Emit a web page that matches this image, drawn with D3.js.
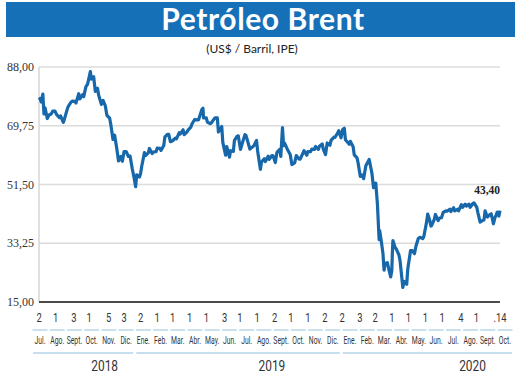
<!DOCTYPE html>
<html>
<head>
<meta charset="utf-8">
<script src="https://cdn.jsdelivr.net/npm/d3@7"></script>
<style>
  body { margin: 0; background: #fff; }
  svg { display: block; }
  .ylab { font-family: "Liberation Serif", "DejaVu Serif", serif; font-size: 12px; fill: #333; }
  .narrow { font-family: Roboto, "Liberation Sans", sans-serif; fill: #333; }
</style>
</head>
<body>
<div id="canvas"></div>
<script>
// Brent prices, US$ per barrel
var dates = [
 '2018-07-02','2018-07-04','2018-07-06','2018-07-09','2018-07-11','2018-07-13','2018-07-17','2018-07-20','2018-07-24','2018-07-27','2018-07-31',
 '2018-08-03','2018-08-08','2018-08-10','2018-08-15','2018-08-17','2018-08-22','2018-08-24','2018-08-29','2018-08-31',
 '2018-09-05','2018-09-07','2018-09-12','2018-09-14','2018-09-19','2018-09-21','2018-09-25','2018-09-28',
 '2018-10-03','2018-10-05','2018-10-09','2018-10-12','2018-10-16','2018-10-18','2018-10-23','2018-10-26','2018-10-30',
 '2018-11-02','2018-11-07','2018-11-09','2018-11-13','2018-11-16','2018-11-20','2018-11-23','2018-11-27','2018-11-30',
 '2018-12-03','2018-12-07','2018-12-11','2018-12-14','2018-12-18','2018-12-21','2018-12-24','2018-12-26','2018-12-31',
 '2019-01-02','2019-01-04','2019-01-09','2019-01-11','2019-01-16','2019-01-18','2019-01-23','2019-01-25','2019-01-30',
 '2019-02-01','2019-02-06','2019-02-08','2019-02-13','2019-02-15','2019-02-20','2019-02-22','2019-02-25',
 '2019-03-01','2019-03-06','2019-03-08','2019-03-13','2019-03-15','2019-03-20','2019-03-22','2019-03-27','2019-03-29',
 '2019-04-03','2019-04-05','2019-04-10','2019-04-12','2019-04-17','2019-04-23','2019-04-25','2019-04-26',
 '2019-05-01','2019-05-03','2019-05-08','2019-05-10','2019-05-15','2019-05-17','2019-05-21','2019-05-23','2019-05-29','2019-05-31',
 '2019-06-05','2019-06-07','2019-06-12','2019-06-14','2019-06-19','2019-06-21','2019-06-26','2019-06-28',
 '2019-07-02','2019-07-05','2019-07-10','2019-07-12','2019-07-17','2019-07-19','2019-07-24','2019-07-26','2019-07-31',
 '2019-08-02','2019-08-07','2019-08-09','2019-08-14','2019-08-16','2019-08-21','2019-08-23','2019-08-28','2019-08-30',
 '2019-09-03','2019-09-06','2019-09-11','2019-09-13','2019-09-16','2019-09-18','2019-09-20','2019-09-25','2019-09-30',
 '2019-10-03','2019-10-08','2019-10-11','2019-10-16','2019-10-18','2019-10-23','2019-10-25','2019-10-30',
 '2019-11-01','2019-11-06','2019-11-08','2019-11-13','2019-11-15','2019-11-20','2019-11-22','2019-11-27','2019-11-29',
 '2019-12-03','2019-12-06','2019-12-11','2019-12-13','2019-12-18','2019-12-20','2019-12-24','2019-12-27','2019-12-31',
 '2020-01-03','2020-01-06','2020-01-08','2020-01-10','2020-01-15','2020-01-17','2020-01-22','2020-01-24','2020-01-29','2020-01-31',
 '2020-02-04','2020-02-07','2020-02-10','2020-02-14','2020-02-20','2020-02-21','2020-02-25','2020-02-28',
 '2020-03-03','2020-03-06','2020-03-09','2020-03-10','2020-03-13','2020-03-16','2020-03-18','2020-03-20','2020-03-24','2020-03-27','2020-03-30',
 '2020-04-01','2020-04-02','2020-04-03','2020-04-07','2020-04-09','2020-04-14','2020-04-16','2020-04-21','2020-04-22','2020-04-24','2020-04-28','2020-04-30',
 '2020-05-05','2020-05-08','2020-05-12','2020-05-15','2020-05-19','2020-05-22','2020-05-27','2020-05-29',
 '2020-06-03','2020-06-05','2020-06-08','2020-06-11','2020-06-12','2020-06-17','2020-06-19','2020-06-24','2020-06-26','2020-06-30',
 '2020-07-03','2020-07-08','2020-07-10','2020-07-15','2020-07-17','2020-07-22','2020-07-24','2020-07-29','2020-07-31',
 '2020-08-05','2020-08-07','2020-08-12','2020-08-14','2020-08-19','2020-08-21','2020-08-26','2020-08-28',
 '2020-09-02','2020-09-04','2020-09-08','2020-09-10','2020-09-15','2020-09-17','2020-09-21','2020-09-24','2020-09-28','2020-09-30',
 '2020-10-02','2020-10-05','2020-10-07','2020-10-09','2020-10-12','2020-10-14'
];
var prices = [
 77.8,78.2,77.1,79.6,73.4,75.3,72.0,73.1,73.4,74.3,74.3,
 73.2,72.3,72.8,70.8,71.8,74.8,75.8,77.1,77.4,
 77.3,76.8,79.7,78.1,79.4,78.8,81.9,82.7,
 86.6,84.2,85.0,80.4,81.4,79.3,76.4,77.6,76.0,
 73.0,72.1,70.2,65.5,66.8,62.5,58.8,60.2,58.7,
 61.7,61.7,60.2,60.3,56.3,53.8,50.8,54.5,53.8,
 54.9,57.1,61.4,60.5,61.3,62.7,61.1,61.6,61.7,
 62.8,62.7,62.1,63.6,66.3,67.1,67.1,64.8,
 65.1,65.9,65.7,67.6,67.2,68.5,67.0,67.8,68.4,
 69.3,70.3,71.7,71.6,71.6,74.8,75.2,72.2,
 72.2,70.9,70.4,70.6,71.8,72.2,72.2,67.8,69.5,64.5,
 60.6,63.3,60.0,62.0,61.8,65.2,66.5,66.6,
 62.4,64.2,67.0,66.7,63.7,62.5,63.2,63.5,65.2,
 61.9,56.2,58.5,59.5,58.6,60.3,59.3,60.5,60.4,
 58.3,61.5,62.4,60.2,69.2,63.6,64.3,62.4,60.8,
 57.7,58.2,60.5,59.4,59.4,61.2,62.0,60.6,
 61.7,61.7,62.5,62.4,63.3,62.4,63.4,64.1,62.4,
 60.8,64.4,63.7,65.2,66.2,66.1,67.2,68.2,66.0,
 68.6,69.0,65.4,65.0,64.0,64.9,63.2,60.7,59.8,58.2,
 54.0,54.5,53.3,57.3,59.3,58.5,55.0,50.5,
 51.9,45.3,34.4,37.2,33.9,30.1,24.9,27.0,27.2,24.9,22.8,
 24.7,29.9,34.1,31.9,31.5,29.6,27.8,19.5,20.4,21.4,20.5,25.3,
 31.0,31.0,30.0,32.5,34.7,35.1,34.7,35.3,
 39.8,42.3,40.8,38.6,38.7,40.7,42.2,40.3,41.0,41.2,
 42.8,43.3,43.2,43.8,43.1,44.3,43.3,43.8,43.3,
 45.2,44.4,45.4,44.8,45.4,44.4,45.6,45.8,
 44.4,42.7,39.8,40.1,40.5,43.3,41.4,41.9,42.4,41.0,
 39.3,41.3,42.0,42.9,41.7,43.4
];

var yTicks = [15, 33.25, 51.5, 69.75, 88];

var months = ['Jul.','Ago.','Sept.','Oct.','Nov.','Dic.',
  'Ene.','Feb.','Mar.','Abr.','May.','Jun.','Jul.','Ago.','Sept.','Oct.','Nov.','Dic.',
  'Ene.','Feb.','Mar.','Abr.','May.','Jun.','Jul.','Ago.','Sept.','Oct.'];
var monthYear = [2018,2018,2018,2018,2018,2018,
  2019,2019,2019,2019,2019,2019,2019,2019,2019,2019,2019,2019,
  2020,2020,2020,2020,2020,2020,2020,2020,2020,2020];

// first quoted day of each month, plus the last date
var firstDays = ['2018-07-02','2018-08-01','2018-09-03','2018-10-01','2018-11-05','2018-12-03',
  '2019-01-02','2019-02-01','2019-03-01','2019-04-01','2019-05-01','2019-06-03','2019-07-01','2019-08-01',
  '2019-09-02','2019-10-01','2019-11-01','2019-12-02','2020-01-02','2020-02-03','2020-03-02','2020-04-01',
  '2020-05-01','2020-06-01','2020-07-01','2020-08-04','2020-09-01','2020-10-14'];
var dayLabels = ['2','1','3','1','5','3','2','1','1','1','1','3','1','1',
  '2','1','1','2','2','3','2','1','1','1','1','4','1','.14'];

var years = ['2018','2019','2020'];
var lastLabel = '43,40';

var W = 520, H = 374;
var blue = '#1768ab';

var svg = d3.select('#canvas').append('svg')
    .attr('width', W).attr('height', H);

// title band
svg.append('rect').attr('x', 6).attr('y', 2).attr('width', 509).attr('height', 35)
    .style('fill', '#1670b8');
svg.append('text').attr('x', 263).attr('y', 30)
    .attr('text-anchor', 'middle')
    .style('font-family', 'Lato, "Open Sans", sans-serif')
    .style('font-weight', 'bold').style('font-size', '30px')
    .style('letter-spacing', '0.6px')
    .style('fill', '#fff')
    .text('Petróleo Brent');
svg.append('text').attr('x', 252).attr('y', 53)
    .attr('text-anchor', 'middle')
    .style('font-family', 'Lato, "Open Sans", sans-serif')
    .style('font-size', '12px').style('fill', '#222')
    .text('(US$ / Barril, IPE)');

var parse = d3.timeParse('%Y-%m-%d');
var data = dates.map(function(d, i){ return {date: parse(d), value: prices[i]}; });

var x = d3.scaleTime()
    .domain([parse('2018-07-02'), parse('2020-10-14')])
    .range([39, 500]);
var y = d3.scaleLinear().domain([15, 88]).range([302, 67]);

// gridlines
svg.append('g').selectAll('line')
    .data(yTicks.slice(1))
    .enter().append('line')
    .attr('x1', 39).attr('x2', 500)
    .attr('y1', function(d){ return y(d); }).attr('y2', function(d){ return y(d); })
    .style('stroke', '#dcdcdc').style('stroke-width', 1.5);

svg.append('line').attr('x1', 39).attr('x2', 39).attr('y1', y(88)).attr('y2', y(15))
    .style('stroke', '#d6d6d6').style('stroke-width', 1.5);
svg.append('line').attr('x1', 39).attr('x2', 500).attr('y1', y(15)).attr('y2', y(15))
    .style('stroke', '#111').style('stroke-width', 1.6);

// y labels
svg.append('g').selectAll('text')
    .data(yTicks)
    .enter().append('text').attr('class', 'ylab')
    .attr('x', 34).attr('y', function(d){ return y(d); })
    .attr('dy', '0.35em').attr('text-anchor', 'end')
    .text(function(d){ return d3.format('.2f')(d).replace('.', ','); });

// the line
var line = d3.line()
    .x(function(d){ return x(d.date); })
    .y(function(d){ return y(d.value); });
svg.append('path').datum(data)
    .attr('d', line)
    .style('fill', 'none').style('stroke', blue)
    .style('stroke-width', 3.2).style('stroke-linejoin', 'round');

var last = data[data.length - 1];
svg.append('text')
    .attr('x', x(last.date)).attr('y', y(last.value) - 17)
    .attr('text-anchor', 'end')
    .style('font-family', '"Liberation Serif", serif').style('font-weight', 'bold')
    .style('font-size', '11.5px').style('fill', '#222')
    .text(lastLabel);

// condensed text: squeeze horizontally around its anchor
function narrowText(g, px, py, sx, size, str){
    g.append('text').attr('class', 'narrow')
        .attr('transform', 'translate(' + px + ',' + py + ') scale(' + sx + ',1)')
        .attr('text-anchor', 'middle')
        .style('font-size', size + 'px')
        .text(str);
}

// x axis: day numbers, month names, years
var gx = svg.append('g');
firstDays.forEach(function(d, i){
    narrowText(gx, x(parse(d)), 322, 0.72, 13, dayLabels[i]);
});

var mx = d3.scalePoint().domain(d3.range(months.length)).range([40, 505]);

svg.append('g').selectAll('line')
    .data(months)
    .enter().append('line')
    .attr('x1', function(d, i){ return mx(i) - 7.5; })
    .attr('x2', function(d, i){ return mx(i) + 7.5; })
    .attr('y1', 330).attr('y2', 330)
    .style('stroke', '#a8cbe4').style('stroke-width', 1.2);

months.forEach(function(m, i){
    narrowText(gx, mx(i), 344, 0.68, 10, m);
});

years.forEach(function(yr, k){
    var idx = d3.range(months.length).filter(function(i){ return monthYear[i] == +yr; });
    var x0 = mx(idx[0]) - 8, x1 = mx(idx[idx.length - 1]) + 8;
    svg.append('line').attr('x1', x0 + 1).attr('x2', x1 - 1).attr('y1', 353).attr('y2', 353)
        .style('stroke', '#8fbddd').style('stroke-width', 1.2);
    var cx = [mx(3) + 13, mx(13) + 8, mx(25) + 2][k];
    narrowText(gx, cx, 371, 0.85, 14, yr);
});
</script>
</body>
</html>
